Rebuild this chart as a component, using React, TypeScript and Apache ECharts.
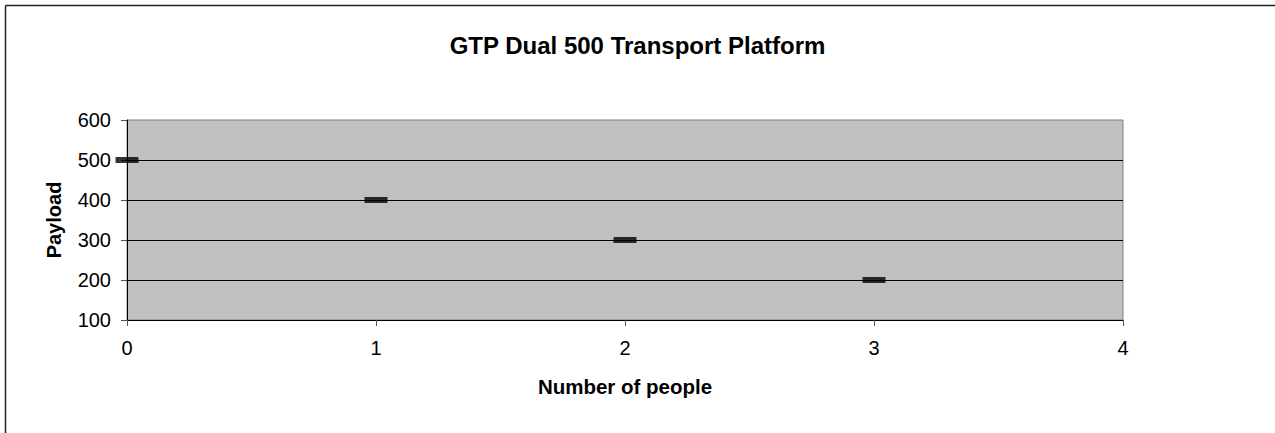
import React, { useEffect, useRef } from "react";
import * as echarts from "echarts";

const title = "GTP Dual 500 Transport Platform";
const xName = "Number of people";
const yName = "Payload";
const people = [0, 1, 2, 3];
const payload = [500, 400, 300, 200];

const FONT = "'Liberation Sans', Arial, sans-serif";

export default function App() {
  const ref = useRef<HTMLDivElement>(null);
  useEffect(() => {
    if (!ref.current) return;
    const chart = echarts.init(ref.current, null, { renderer: "svg" });
    chart.setOption({
      animation: false,
      backgroundColor: "#ffffff",
      textStyle: { fontFamily: FONT },
      title: {
        text: title,
        left: "center",
        top: 33,
        padding: 0,
        textStyle: { fontFamily: FONT, fontSize: 24, fontWeight: "bold", color: "#000" },
      },
      graphic: [
        {
          type: "line",
          shape: { x1: 5.5, y1: 5.5, x2: 1275, y2: 5.5 },
          style: { stroke: "#222", lineWidth: 1.5 },
          silent: true,
        },
        {
          type: "line",
          shape: { x1: 5.5, y1: 5.5, x2: 5.5, y2: 433 },
          style: { stroke: "#222", lineWidth: 1.5 },
          silent: true,
        },
      ],
      grid: {
        left: 127,
        top: 120,
        width: 996,
        height: 200,
        show: true,
        backgroundColor: "#c0c0c0",
        borderColor: "#808080",
        borderWidth: 1,
      },
      xAxis: {
        type: "value",
        min: 0,
        max: 4,
        interval: 1,
        name: xName,
        nameLocation: "middle",
        nameGap: 56,
        nameTextStyle: { fontFamily: FONT, fontSize: 20.5, fontWeight: "bold", color: "#000" },
        axisLine: { show: true, lineStyle: { color: "#000", width: 1 } },
        axisTick: { show: true, length: 6, inside: false, lineStyle: { color: "#555" } },
        axisLabel: { fontFamily: FONT, fontSize: 20, color: "#000", margin: 18 },
        splitLine: { show: false },
      },
      yAxis: {
        type: "value",
        min: 100,
        max: 600,
        interval: 100,
        name: yName,
        nameLocation: "middle",
        nameGap: 63,
        nameTextStyle: { fontFamily: FONT, fontSize: 20, fontWeight: "bold", color: "#000" },
        axisLine: { show: true, lineStyle: { color: "#000", width: 1 } },
        axisTick: { show: true, length: 6, inside: false, lineStyle: { color: "#555" } },
        axisLabel: { fontFamily: FONT, fontSize: 20, color: "#000", margin: 16 },
        splitLine: {
          show: true,
          showMaxLine: false,
          showMinLine: false,
          lineStyle: { color: "#000", width: 1 },
        },
      },
      series: [
        {
          type: "scatter",
          data: people.map((p, i) => [p, payload[i]]),
          symbol: "rect",
          symbolSize: [23, 6],
          itemStyle: { color: "#000", borderWidth: 0 },
          clip: false,
          z: 5,
        },
      ],
    });
    return () => chart.dispose();
  }, []);
  return (
    <div
      ref={ref}
      style={{ position: "absolute", left: 0, top: 0, width: 1275, height: 433, overflow: "hidden" }}
    />
  );
}
